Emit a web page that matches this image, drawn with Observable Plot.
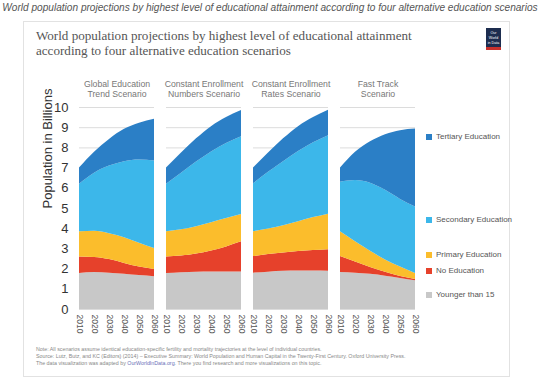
<!DOCTYPE html>
<html><head><meta charset="utf-8">
<script src="https://cdn.jsdelivr.net/npm/d3@7"></script>
<script src="https://cdn.jsdelivr.net/npm/@observablehq/plot@0.6"></script>
<style>
html,body{margin:0;padding:0;background:#fff;}
#wrap{position:relative;width:540px;height:383px;overflow:hidden;font-family:"Liberation Sans",Arial,sans-serif;}
#outer{position:absolute;left:0;top:2px;width:540px;text-align:center;font-style:italic;font-size:10.1px;color:#555;white-space:nowrap;}
#card{position:absolute;left:23px;top:21px;width:485px;height:354px;border:1px solid #e2e2e2;background:#fff;}
#title{position:absolute;left:36px;top:29px;font-family:"Liberation Serif","DejaVu Serif",serif;font-size:13.1px;line-height:14.6px;color:#555;white-space:nowrap;}
#logo{position:absolute;left:486px;top:28px;width:15px;background:#1d2d4f;border-bottom:3px solid #c8312c;color:#fff;font-size:3.6px;line-height:5px;text-align:center;padding-top:3px;height:16px;}
#plot{position:absolute;left:0;top:0;}
#legend{position:absolute;left:0;top:0;}
.li{position:absolute;left:426px;font-size:8px;color:#555;white-space:nowrap;line-height:10px;}
.li span{display:inline-block;width:6px;height:6px;margin-right:4px;vertical-align:-0.5px;}
#foot{position:absolute;left:36px;top:346px;font-size:5.3px;line-height:7.2px;color:#888;white-space:nowrap;}
#foot a{color:#6a6fb8;text-decoration:none;}
</style></head>
<body><div id="wrap">
<div id="outer">World population projections by highest level of educational attainment according to four alternative education scenarios</div>
<div id="card"></div>
<div id="title">World population projections by highest level of educational attainment<br>according to four alternative education scenarios</div>
<div id="logo">Our World<br>in Data</div>
<div id="plot"></div>
<div id="legend"></div>
<div id="foot">Note: All scenarios assume identical education-specific fertility and mortality trajectories at the level of individual countries.<br>Source: Lutz, Butz, and KC (Editors) (2014) – Executive Summary: World Population and Human Capital in the Twenty-First Century. Oxford University Press.<br>The data visualization was adapted by <a>OurWorldInData.org</a>. There you find research and more visualizations on this topic.</div>
</div>
<script>
const years = [2010, 2020, 2030, 2040, 2050, 2060];
const scenarios = ["Global Education Trend Scenario", "Constant Enrollment Numbers Scenario", "Constant Enrollment Rates Scenario", "Fast Track Scenario"];
const scenarioLabels = ["Global Education\nTrend Scenario", "Constant Enrollment\nNumbers Scenario", "Constant Enrollment\nRates Scenario", "Fast Track\nScenario"];
const levels = ["Younger than 15", "No Education", "Primary Education", "Secondary Education", "Tertiary Education"];
const colors = ["#c8c8c8", "#e6412b", "#fbbd2c", "#3cb7ea", "#2b7fc6"];
const yTicks = [0, 1, 2, 3, 4, 5, 6, 7, 8, 9, 10];

// population in billions per level (layer sizes), one array per scenario & level
const getYounger   = [1.78, 1.83, 1.80, 1.75, 1.68, 1.62];
const getNoEd      = [0.82, 0.75, 0.67, 0.53, 0.42, 0.36];
const getPrimary   = [1.25, 1.29, 1.28, 1.27, 1.18, 1.04];
const getSecondary = [2.35, 2.88, 3.35, 3.77, 4.12, 4.33];
const getTertiary  = [0.80, 1.03, 1.32, 1.60, 1.82, 2.07];

const cenYounger   = [1.78, 1.82, 1.85, 1.86, 1.86, 1.86];
const cenNoEd      = [0.82, 0.83, 0.90, 1.04, 1.24, 1.49];
const cenPrimary   = [1.25, 1.30, 1.35, 1.40, 1.40, 1.35];
const cenSecondary = [2.35, 2.80, 3.20, 3.50, 3.72, 3.85];
const cenTertiary  = [0.80, 1.00, 1.15, 1.25, 1.28, 1.30];

const cerYounger   = [1.80, 1.85, 1.89, 1.90, 1.90, 1.89];
const cerNoEd      = [0.82, 0.87, 0.91, 0.97, 1.02, 1.07];
const cerPrimary   = [1.23, 1.26, 1.35, 1.48, 1.63, 1.76];
const cerSecondary = [2.37, 2.82, 3.17, 3.47, 3.70, 3.88];
const cerTertiary  = [0.78, 0.95, 1.13, 1.23, 1.25, 1.27];

const ftYounger    = [1.83, 1.80, 1.74, 1.65, 1.54, 1.42];
const ftNoEd       = [0.79, 0.55, 0.34, 0.19, 0.09, 0.07];
const ftPrimary    = [1.23, 1.00, 0.80, 0.61, 0.47, 0.29];
const ftSecondary  = [2.45, 3.03, 3.37, 3.45, 3.35, 3.29];
const ftTertiary   = [0.70, 1.40, 2.05, 2.75, 3.40, 3.86];

const series = [
  [getYounger, getNoEd, getPrimary, getSecondary, getTertiary],
  [cenYounger, cenNoEd, cenPrimary, cenSecondary, cenTertiary],
  [cerYounger, cerNoEd, cerPrimary, cerSecondary, cerTertiary],
  [ftYounger, ftNoEd, ftPrimary, ftSecondary, ftTertiary]
];

const data = [];
scenarios.forEach((s, si) => levels.forEach((l, li) => years.forEach((yr, yi) =>
  data.push({scenario: s, level: l, year: yr, value: series[si][li][yi]}))));

const font = "Liberation Sans, Arial, sans-serif";
const chart = Plot.plot({
  width: 540, height: 383,
  marginLeft: 78, marginRight: 124, marginTop: 107, marginBottom: 74,
  style: {fontFamily: font, background: "transparent", overflow: "visible"},
  x: {domain: [2010, 2060], axis: null},
  y: {domain: [0, 10], axis: null},
  fx: {domain: scenarios, padding: 0.14, axis: null},
  color: {domain: levels, range: colors},
  marks: [
    Plot.gridY(yTicks, {stroke: "#dcdcdc", strokeOpacity: 1, strokeWidth: 1}),
    Plot.areaY(data, {x: "year", y: "value", fill: "level", fx: "scenario", z: "level", curve: "monotone-x", order: levels}),
    Plot.axisY(yTicks, {tickSize: 0, tickPadding: 11, fontSize: 13, fill: "#333", label: null}),
    Plot.axisX(years, {tickSize: 0, tickPadding: 5, tickRotate: 90, fontSize: 8.5, fill: "#555", tickFormat: d => String(d), label: null}),
    Plot.text(scenarios, {fx: d => d, text: (d, i) => scenarioLabels[i], frameAnchor: "top", dy: -11, lineAnchor: "bottom", fontSize: 8.7, fill: "#777", lineHeight: 1.12}),
    Plot.text([scenarios[0]], {fx: d => d, text: () => "Population in Billions", frameAnchor: "left", rotate: -90, dx: -32, fontSize: 13, fill: "#333"})
  ]
});
document.getElementById("plot").appendChild(chart);

// legend
const legendTops = [290, 266, 250, 215, 132];
const leg = document.getElementById("legend");
levels.forEach((l, i) => {
  const d = document.createElement("div");
  d.className = "li";
  d.style.top = legendTops[i] + "px";
  d.innerHTML = `<span style="background:${colors[i]}"></span>${l}`;
  leg.appendChild(d);
});
</script>
</body></html>
